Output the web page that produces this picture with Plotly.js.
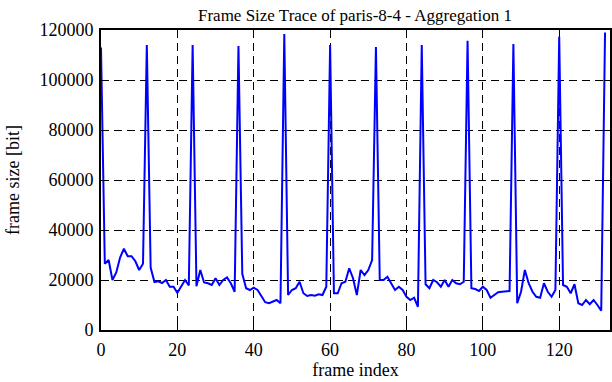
<!DOCTYPE html>
<html>
<head>
<meta charset="utf-8">
<script src="https://cdn.plot.ly/plotly-3.0.1.min.js"></script>
<style>html,body{margin:0;padding:0;background:#fff;}#chart{width:612px;height:382px;}</style>
</head>
<body>
<div id="chart"></div>
<script>
// frame index 0..132 and frame size [bit]
const frameSize = [
  113000, 26500, 28000, 20000, 23000, 29000, 32500, 29500, 29500, 27500,
  24000, 26500, 114000, 25000, 19200, 19500, 18800, 20000, 17300, 17300,
  14900, 17300, 20000, 17800, 114000, 17500, 24000, 19000, 18700, 18000,
  20700, 18000, 20000, 21000, 18700, 15300, 113600, 22500, 16700, 16000,
  16900, 16000, 13300, 11100, 10700, 11300, 12000, 10700, 118400, 14000,
  16000, 16700, 19300, 14700, 13600, 14000, 13700, 14300, 14000, 17300,
  114000, 14700, 14700, 18700, 19300, 24700, 20700, 14000, 24000, 22000,
  24000, 28000, 113200, 20000, 20000, 21300, 18700, 16000, 17300, 16000,
  13300, 12000, 12900, 9300, 114000, 18300, 16700, 20000, 19100, 17300,
  20000, 17300, 20000, 18700, 18300, 19300, 115700, 16700, 16400, 15600,
  17300, 16000, 12900, 14000, 15100, 15300, 15600, 15600, 114400, 10700,
  15300, 24000, 18700, 15300, 13300, 12900, 18700, 15300, 13300, 16000,
  117300, 18000, 17300, 14700, 18300, 10700, 10000, 12000, 10300, 12000,
  10000, 7700, 119000
];
const frameIndex = frameSize.map((_, i) => i);
const xTicks = [0, 20, 40, 60, 80, 100, 120];
const yTicks = [0, 20000, 40000, 60000, 80000, 100000, 120000];

const font = {family: '"Liberation Serif", "Times New Roman", serif', size: 18, color: '#000'};
const axisCommon = {
  showline: true, linecolor: '#000', linewidth: 2, mirror: 'ticks',
  ticks: 'inside', ticklen: 6, tickwidth: 1, tickcolor: '#000',
  showgrid: true, gridcolor: '#000', gridwidth: 1, griddash: '8px,5px',
  zeroline: false, tickfont: font
};

Plotly.newPlot('chart', [{
  x: frameIndex, y: frameSize, type: 'scatter', mode: 'lines',
  line: {color: '#0000ff', width: 2}, hoverinfo: 'skip'
}], {
  width: 612, height: 382,
  margin: {l: 101, r: 2, t: 30, b: 52},
  paper_bgcolor: '#fff', plot_bgcolor: '#fff',
  showlegend: false, font: font,
  title: {text: 'Frame Size Trace of paris-8-4 - Aggregation 1', font: {family: font.family, size: 17, color: '#000'},
          x: 0.58, xanchor: 'center', y: 0.975, yanchor: 'top'},
  xaxis: Object.assign({}, axisCommon, {
    range: [0, 133.3], tickvals: xTicks, ticktext: xTicks.map(String),
    ticklabelstandoff: 2,
    title: {text: 'frame index', font: font, standoff: 5}
  }),
  yaxis: Object.assign({}, axisCommon, {
    range: [0, 120000], tickvals: yTicks, ticktext: yTicks.map(String),
    ticklabelstandoff: 2,
    title: {text: 'frame size [bit]', font: font, standoff: 15}
  })
}, {staticPlot: true, displayModeBar: false});
</script>
</body>
</html>
